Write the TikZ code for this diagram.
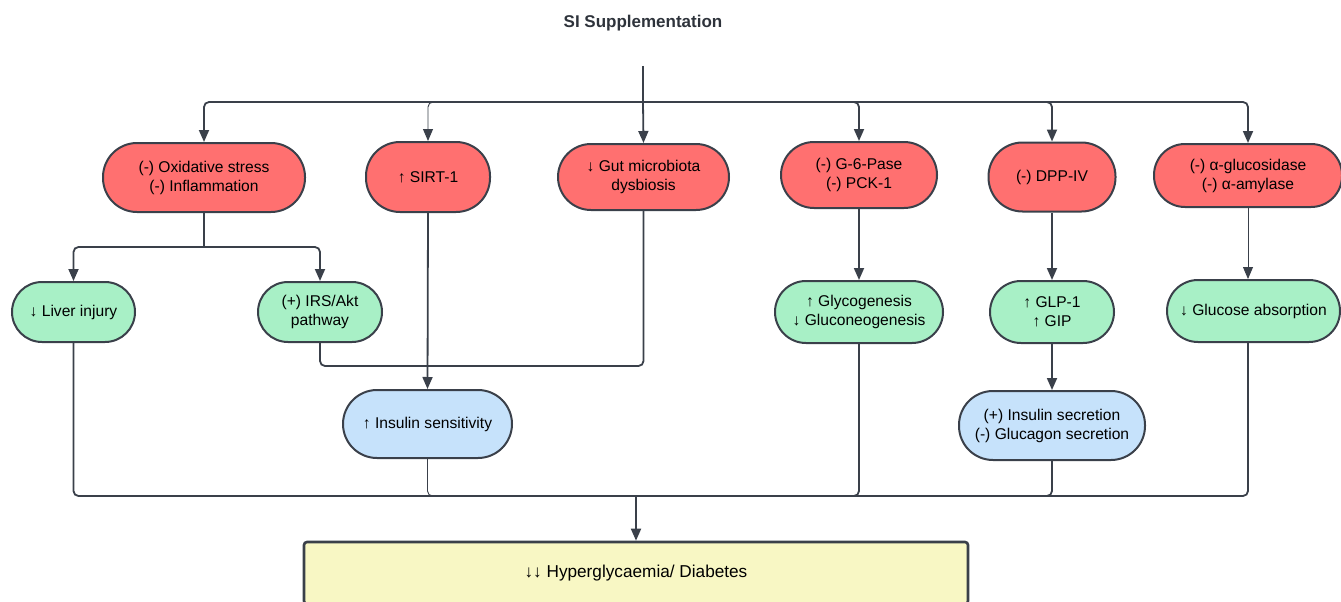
\documentclass[tikz,border=0pt]{standalone}
\usepackage{fontspec}
\setmainfont{Liberation Sans}
\usetikzlibrary{arrows.meta}
\definecolor{redf}{RGB}{255,112,112}
\definecolor{greenf}{RGB}{168,240,198}
\definecolor{bluef}{RGB}{198,226,251}
\definecolor{yellowf}{RGB}{248,247,196}
\definecolor{linec}{RGB}{58,64,74}
\begin{document}
\begin{tikzpicture}[x=1pt,y=-1pt,
  box/.style={draw=linec, line width=2pt, align=center, inner sep=0pt,
    font=\fontsize{15.6}{19}\selectfont},
  redbox/.style={box, fill=redf},
  greenbox/.style={box, fill=greenf},
  bluebox/.style={box, fill=bluef},
  conn/.style={draw=linec, line width=1.8pt, rounded corners=5pt},
  thinconn/.style={conn, line width=0.9pt},
  arr/.style={conn, -{Triangle[width=10pt,length=12pt]}},
  thinarr/.style={thinconn, -{Triangle[width=10pt,length=12pt]}}]
\useasboundingbox (0,0) rectangle (1341,602);

\node[font=\fontsize{17}{20}\selectfont\bfseries, text=linec!80!black] (title) at (643,23) {SI Supplementation};

% red row
\node[redbox, minimum width=202pt, minimum height=69pt, rounded corners=34pt] (ox) at (204,177.5) {(-) Oxidative stress\\(-) Inflammation};
\node[redbox, minimum width=124pt, minimum height=70pt, rounded corners=34pt] (sirt) at (428,177) {↑ SIRT-1};
\node[redbox, minimum width=171pt, minimum height=66pt, rounded corners=33pt] (gut) at (643.5,177) {↓ Gut microbiota\\dysbiosis};
\node[redbox, minimum width=156pt, minimum height=66pt, rounded corners=33pt] (g6p) at (859,175) {(-) G-6-Pase\\(-) PCK-1};
\node[redbox, minimum width=127pt, minimum height=69pt, rounded corners=34pt] (dpp) at (1052,177) {(-) DPP-IV};
\node[redbox, minimum width=188pt, minimum height=63pt, rounded corners=31pt] (agl) at (1248,175.5) {(-) α-glucosidase\\(-) α-amylase};

% green row
\node[greenbox, minimum width=123pt, minimum height=60pt, rounded corners=30pt] (liver) at (73.5,312) {↓ Liver injury};
\node[greenbox, minimum width=124pt, minimum height=60pt, rounded corners=30pt] (irs) at (320,312) {(+) IRS/Akt\\pathway};
\node[greenbox, minimum width=168pt, minimum height=62pt, rounded corners=31pt] (glyco) at (859,312) {↑ Glycogenesis\\↓ Gluconeogenesis};
\node[greenbox, minimum width=124pt, minimum height=62pt, rounded corners=31pt] (glp) at (1052,312) {↑ GLP-1\\↑ GIP};
\node[greenbox, minimum width=173pt, minimum height=62pt, rounded corners=31pt] (gabs) at (1253.5,311) {↓ Glucose absorption};

% blue row
\node[bluebox, minimum width=169pt, minimum height=68pt, rounded corners=34pt] (inss) at (427.5,424) {↑ Insulin sensitivity};
\node[bluebox, minimum width=186pt, minimum height=69pt, rounded corners=34pt] (insec) at (1052,425.5) {(+) Insulin secretion\\(-) Glucagon secretion};

% final box
\node[draw=linec, line width=2.6pt, fill=yellowf, rounded corners=3pt, minimum width=664pt, minimum height=62pt, inner sep=0pt,
  font=\fontsize{17.2}{20}\selectfont] (hyper) at (636,573) {↓↓ Hyperglycaemia/ Diabetes};

% top connectors
\coordinate (stem) at (643,66);
\coordinate (bus) at (643,102);
\draw[conn] (stem) -- (bus);
\draw[arr] (bus) -| (ox.north);
\draw[thinarr] (bus) -| (sirt.north);
\draw[arr] (bus) -- (gut.north);
\draw[arr] (bus) -| (g6p.north);
\draw[arr] (bus) -| (dpp.north);
\draw[arr] (bus) -| (agl.north);

% oxidative split
\coordinate (oxs) at (204,247);
\draw[conn] (ox.south) -- (oxs);
\draw[arr] (oxs) -| (liver.north);
\draw[arr] (oxs) -| (irs.north);

% to insulin sensitivity
\coordinate (ms) at (428,366);
\draw[conn] (irs.south) |- (ms);
\draw[conn] (gut.south) |- (ms);
\draw[arr] (sirt.south) -- (inss.north);

% vertical green arrows
\draw[arr] (g6p.south) -- (glyco.north);
\draw[arr] (dpp.south) -- (glp.north);
\draw[thinarr] (agl.south) -- (agl.south |- gabs.north);
\draw[arr] (glp.south) -- (insec.north);

% bottom bus
\coordinate (bb) at (636,496);
\draw[conn] (liver.south) |- (bb);
\draw[thinconn] (inss.south) |- (bb);
\draw[conn] (glyco.south) |- (bb);
\draw[conn] (insec.south) |- (bb);
\draw[conn] (gabs.south -| agl.south) |- (bb);
\draw[arr] (bb) -- (hyper.north);
\end{tikzpicture}
\end{document}
